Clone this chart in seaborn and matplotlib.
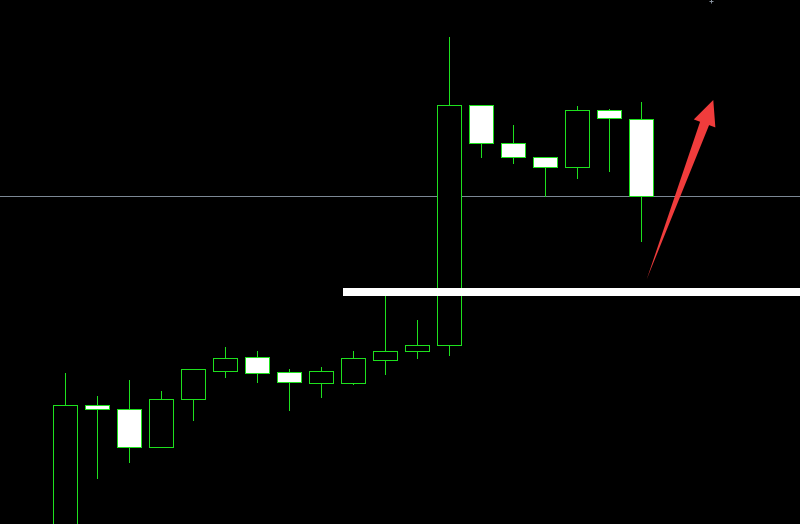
import numpy as np
import matplotlib
matplotlib.use("Agg")
import matplotlib.pyplot as plt
from matplotlib.patches import Polygon
import seaborn as sns

# ── Data (price units) ───────────────────────────────────────────────────────
opens  = [-36.0, 118.7, 114.7, 77.3, 125.3, 153.3, 166.7, 151.7, 141.3, 141.3,
          164.3, 173.3, 178.7, 418.7, 380.7, 366.7, 356.7, 413.7, 404.7]
highs  = [151.0, 128.0, 144.0, 133.0, 154.7, 177.0, 173.0, 155.0, 157.0, 173.0,
          236.0, 204.0, 487.0, 418.7, 399.0, 366.7, 418.0, 415.0, 422.0]
lows   = [-51.0, 46.3, 62.3, 77.3, 104.0, 147.3, 142.3, 114.0, 127.3, 140.3,
          150.3, 166.3, 169.3, 367.3, 361.3, 328.0, 346.3, 353.3, 283.3]
closes = [118.7, 114.7, 77.3, 124.7, 154.7, 165.7, 151.3, 142.3, 153.0, 165.7,
          172.7, 178.7, 418.7, 380.7, 366.7, 356.7, 413.7, 405.7, 327.7]

gray_level = 328.0          # thin horizontal line
support_level = 232.0       # thick white line
support_start = 8.68        # bar index where the white line begins
arrow_from = (18.17, 244.7)
arrow_to = (20.25, 424.0)
marker_pt = (20.19, 523.0)

# ── Style ────────────────────────────────────────────────────────────────────
sns.set_theme(style="dark", rc={"axes.facecolor": "black",
                                "figure.facecolor": "black"})
GREEN = "#1ee01e"
PX = 0.72   # one pixel in points at 100 dpi

fig = plt.figure(figsize=(8, 5.24), dpi=100)
ax = fig.add_axes([0, 0, 1, 1])
ax.set_xlim(-2.04, 22.96)
ax.set_ylim(0, 524)
ax.axis("off")

x = np.arange(len(opens))
o, h, l, c = map(np.array, (opens, highs, lows, closes))
bull = c >= o

ax.axhline(gray_level, color="#7b8794", lw=PX, antialiased=False, zorder=1)

# wicks
ax.vlines(x, l, h, color=GREEN, lw=PX, antialiased=False, zorder=2)

# bodies
bottoms = np.minimum(o, c)
heights = np.maximum(np.abs(c - o), 0.8)
faces = ["black" if b else "white" for b in bull]
ax.bar(x, heights, bottom=bottoms, width=0.75, color=faces,
       edgecolor=GREEN, linewidth=PX, antialiased=False, zorder=3)

# thick white level line
ax.hlines(support_level, support_start, 22.96, color="white", lw=4.4,
          antialiased=False, zorder=4)

# red tapered arrow, built in display space
fig.canvas.draw()
tr = ax.transData
p0 = tr.transform(arrow_from)
p1 = tr.transform(arrow_to)
d = p1 - p0
u = d / np.linalg.norm(d)
n = np.array([-u[1], u[0]])
head_len, head_w, shaft_w = 25, 11.5, 4.8
base = p1 - u * head_len
pts = [p0,
       base + n * shaft_w,
       base + n * head_w,
       p1,
       base - n * head_w,
       base - n * shaft_w]
pts = tr.inverted().transform(np.array(pts))
ax.add_patch(Polygon(pts, closed=True, facecolor="#f03c3c",
                     edgecolor="none", zorder=5))

ax.scatter([marker_pt[0]], [marker_pt[1]], marker="+", s=12,
           color="#8a94a0", linewidths=0.7, zorder=5)

fig.savefig("out.png", dpi=100, facecolor="black")
